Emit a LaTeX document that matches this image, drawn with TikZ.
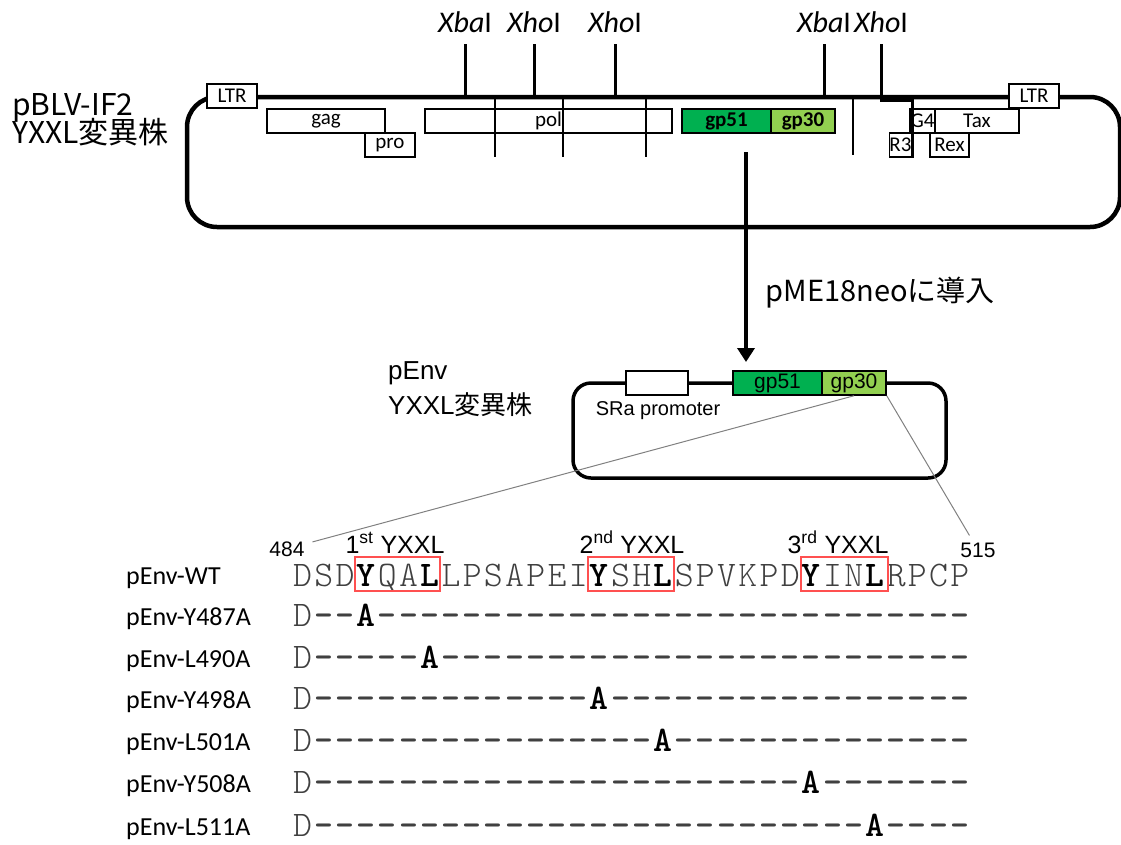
\documentclass[tikz,border=0pt]{standalone}
\usepackage{fontspec}
\setmainfont{Carlito}
\newfontfamily\jpfont{Noto Sans CJK JP}
\newfontfamily\arialfont{Liberation Sans}
\newfontfamily\seqfont{lmmonolt10-regular.otf}[BoldFont=lmmonolt10-bold.otf]
\usetikzlibrary{arrows.meta,positioning}
\definecolor{envgreen}{HTML}{00B050}
\definecolor{tmgreen}{HTML}{92D050}
\definecolor{motifred}{HTML}{FF5050}
\definecolor{seqgray}{HTML}{404040}

\begin{document}
\begin{tikzpicture}[
  x=1pt, y=-1pt,
  gene/.style={draw, line width=1.5pt, fill=white, minimum height=24pt,
               inner sep=0pt, font=\fontsize{21}{24}\selectfont},
  site/.style={font=\fontsize{30}{36}\selectfont},
  cuttick/.style={line width=3pt, shorten <=8pt},
  seg/.style={line width=2.5pt},
  backbone/.style={line width=4.5pt, rounded corners=30pt},
  vector/.style={line width=3.5pt, rounded corners=18pt},
  textlab/.style={anchor=base west, inner sep=0pt},
  res/.style={anchor=base, inner sep=0pt, text=seqgray,
              font=\seqfont\fontsize{36}{40}\selectfont},
  keyres/.style={res, text=black, font=\seqfont\bfseries\fontsize{36}{40}\selectfont},
  gapres/.style={keyres, text=seqgray},
  rowlab/.style={anchor=base west, inner sep=0pt, font=\fontsize{26}{30}\selectfont},
  motif/.style={draw=motifred, line width=1.2pt},
  zoomline/.style={draw=gray, line width=1pt},
  arial/.style={inner sep=0pt, font=\arialfont\fontsize{#1}{#1}\selectfont}
]
\useasboundingbox (0,0) rectangle (1121,844);

% pBLV-IF2 provirus
\node[textlab, font=\jpfont\fontsize{30}{35}\selectfont] (pblv) at (12,115) {pBLV-IF2};
\node[textlab, font=\jpfont\fontsize{30}{35}\selectfont] (pblvmut) at (12,143) {YXXL変異株};

\draw[backbone] (187,97) rectangle (1120,227);

\node[gene, minimum width=50pt] (ltrL) at (232,96) {LTR};
\node[gene, minimum width=118pt] (gag) at (326,121) {gag};
\node[gene, minimum width=50pt] (pro) at (390,145) {pro};
\node[gene, minimum width=247pt] (pol) at (548.5,121) {pol};
\node[gene, minimum width=89pt, fill=envgreen, font=\bfseries\fontsize{21}{24}\selectfont] (gp51) at (726.5,121) {gp51};
\node[gene, minimum width=64pt, fill=tmgreen, font=\bfseries\fontsize{21}{24}\selectfont] (gp30) at (803,121) {gp30};
\node[gene, minimum width=25pt] (g4) at (922.5,121) {G4};
\node[gene, minimum width=84pt] (tax) at (977,121) {Tax};
\node[gene, minimum width=21pt] (r3) at (900.5,145) {R3};
\node[gene, minimum width=39pt] (rex) at (949.5,145) {Rex};
\node[gene, minimum width=50pt] (ltrR) at (1034,96) {LTR};

\foreach \x/\b in {495/157, 563/157, 646/157, 853/155}
  \draw[seg] (\x,97) -- (\x,\b);

\foreach \n/\e/\x in {xba1/Xba/465, xho1/Xho/534, xho2/Xho/615, xba2/Xba/824} {
  \node[site] (\n) at (\x,22) {\textit{\e}I};
  \coordinate (\n-cut) at (\x,97);
  \draw[cuttick] (\n) -- (\n-cut);
}
\node[site] (xho3) at (881,22) {\textit{Xho}I};
\coordinate (xho3-cut) at (881,100);
\coordinate (rxL) at (912,100);
\coordinate (rxB) at (912,158);
\draw[cuttick] (xho3) -- (xho3-cut) -- (rxL) -- (rxB);

% subcloning
\coordinate (arrS) at (746,152);
\coordinate (arrE) at (746,362);
\draw[line width=3.5pt, -{Triangle[width=17pt,length=14pt]}] (arrS) -- (arrE);
\node[anchor=west, font=\jpfont\fontsize{29}{34}\selectfont] (insert) at (762,293) {pME18neoに導入};

% pEnv expression vector
\node[textlab, font=\arialfont\fontsize{26}{30}\selectfont] (penv) at (388,379) {pEnv};
\node[textlab, font=\arialfont\fontsize{26}{30}\selectfont] (penvmut) at (388,414) {YXXL{\jpfont 変異株}};

\draw[vector] (573,383) rectangle (946,478);
\node[gene, minimum width=62pt] (sra) at (657,383) {};
\node[gene, minimum width=89pt, fill=envgreen, font=\arialfont\fontsize{21}{24}\selectfont] (egp51) at (777.5,383) {gp51};
\node[gene, minimum width=64pt, fill=tmgreen, font=\arialfont\fontsize{21}{24}\selectfont] (egp30) at (854,383) {gp30};
\node[arial=20, anchor=base] (sralab) at (658,415) {SRa promoter};

% cytoplasmic tail
\node[arial=21, anchor=base] (n484) at (287,556) {484};
\node[arial=21, anchor=base] (n515) at (978,557) {515};
\draw[zoomline, shorten >=8pt] (egp30.south) -- (n484);
\draw[zoomline, shorten >=8pt] (egp30.south east) -- (n515);

\node[arial=25, anchor=base] (yxxl1) at (395,553) {1\textsuperscript{st} YXXL};
\node[arial=25, anchor=base] (yxxl2) at (632,553) {2\textsuperscript{nd} YXXL};
\node[arial=25, anchor=base] (yxxl3) at (838,553) {3\textsuperscript{rd} YXXL};

\node[rowlab] (labWT) at (126,584) {pEnv-WT};
\foreach \c/\s [count=\i from 0] in {D/res,S/res,D/res,Y/keyres,Q/res,A/res,L/keyres,L/res,
    P/res,S/res,A/res,P/res,E/res,I/res,Y/keyres,S/res,H/res,L/keyres,S/res,P/res,V/res,
    K/res,P/res,D/res,Y/keyres,I/res,N/res,L/keyres,R/res,P/res,C/res,P/res}
  \node[\s] (wt\i) at (302.6+21.2*\i,586) {\c};

\draw[motif] (355,557) rectangle (440,591);
\draw[motif] (588,557) rectangle (674,591);
\draw[motif] (801,557) rectangle (888,591);

\foreach \m/\p/\y in {Y487A/3/626, L490A/6/668, Y498A/14/709,
                      L501A/17/751, Y508A/24/793, L511A/27/836} {
  \node[rowlab] (lab\m) at (126,\y-1) {pEnv-\m};
  \foreach \i in {0,...,31} {
    \ifnum\i=0 \def\rs{res}\def\rc{D}\else
      \ifnum\i=\p\relax \def\rs{keyres}\def\rc{A}\else \def\rs{gapres}\def\rc{-}\fi\fi
    \node[\rs] (\m-\i) at (302.6+21.2*\i,\y) {\rc};
  }
}
\end{tikzpicture}
\end{document}
